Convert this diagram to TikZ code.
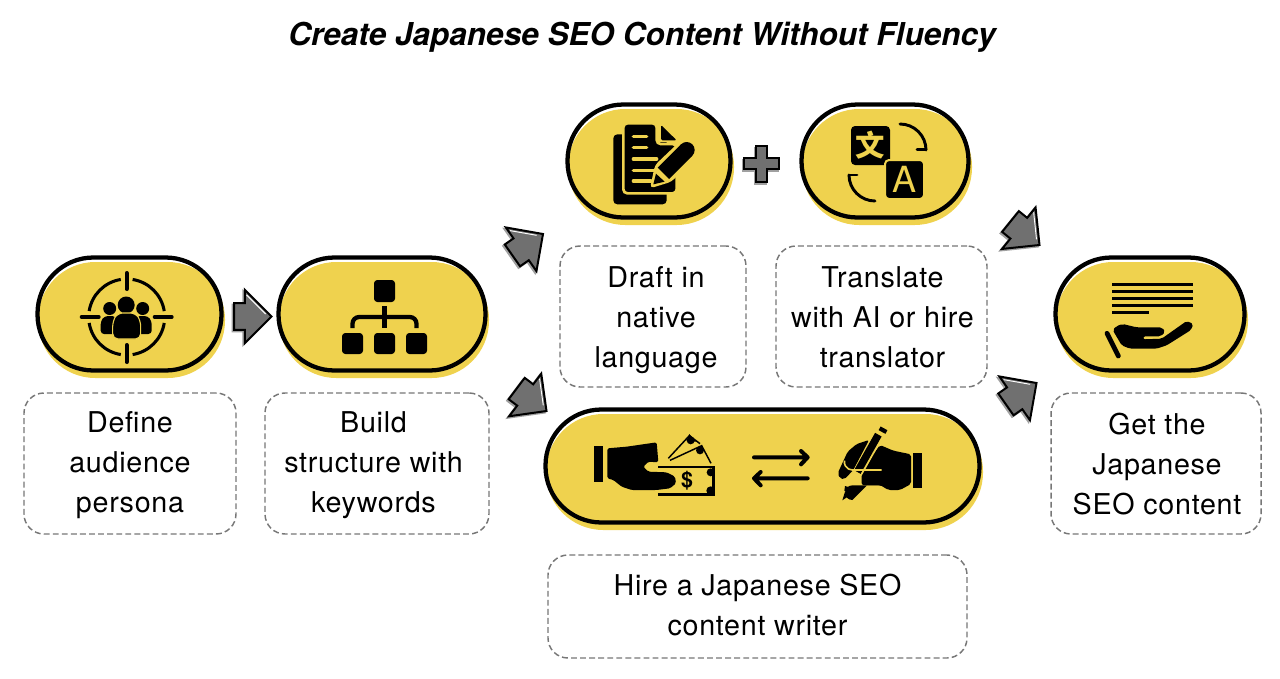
\documentclass[tikz,border=0pt]{standalone}
\usepackage{fontspec}
\setmainfont{TeX Gyre Heros}
\newfontfamily\notefont[LetterSpace=2.5]{TeX Gyre Heros}
\newfontfamily\cjkfont{Noto Sans CJK SC}
\usetikzlibrary{shapes.arrows,calc}
\definecolor{pillyellow}{HTML}{EFD24E}
\definecolor{arrowgray}{HTML}{707070}
\definecolor{dashgray}{HTML}{777777}
\definecolor{shadegray}{HTML}{A0A0A0}
\tikzset{
  pillshade/.style={fill=pillyellow,rounded corners=43pt,inner sep=0pt},
  pilledge/.style={draw=black,line width=3.2pt,rounded corners=42pt,inner sep=0pt},
  notebox/.style={draw=dashgray,line width=1.1pt,dash pattern=on 4.4pt off 2.4pt,rounded corners=15pt,inner sep=0pt},
  notetext/.style={inner sep=0pt,align=center,font=\notefont\fontsize{21.5}{30}\selectfont},
  arrowbase/.style={single arrow,line width=1.5pt,inner sep=0pt,outer sep=0pt,minimum height=28pt,single arrow head extend=10pt,anchor=tip},
  blockarrow/.style={arrowbase,draw=black,fill=arrowgray},
  blockshade/.style={arrowbase,draw=shadegray,fill=shadegray},
  gleam/.style={white,line width=.7pt},
  goldline/.style={draw=pillyellow,line cap=round}
}
% name, x1,y1,x2,y2 (outer px)
\newcommand{\pillnode}[5]{%
  \node[pillshade,minimum width={(#4-#2)*0.75pt},minimum height={(#5-#3)*0.75pt}] (#1shade) at ({(#2+#4)/2+2},{(#3+#5)/2+6}) {};
  \node[pilledge,minimum width={(#4-#2-3)*0.75pt},minimum height={(#5-#3-3)*0.75pt}] (#1) at ({(#2+#4)/2},{(#3+#5)/2}) {};
}
% name, x1,y1,x2,y2, text centre x, text centre y, text
\newcommand{\notenode}[8]{%
  \node[notebox,minimum width={(#4-#2)*0.75pt},minimum height={(#5-#3)*0.75pt}] (#1) at ({(#2+#4)/2},{(#3+#5)/2}) {};
  \node[notetext] (#1label) at (#6,#7) {#8};
}
% name, tip x, tip y, angle
\newcommand{\arrownode}[4]{%
  \node[blockshade,rotate=#4] (#1shade) at ({#2-1.5},{#3+1.5}) {\rule{0pt}{18.5pt}};
  \node[blockarrow,rotate=#4] (#1) at (#2,#3) {\rule{0pt}{18.5pt}};
  \draw[gleam] ($(#1.tip)+({-(#4+135)}:6)+({-(#4+225)}:2.4)$) -- ++({-(#4+135)}:27);
}
\begin{document}
\begin{tikzpicture}[x=0.75pt,y=-0.75pt]
\useasboundingbox (0,0) rectangle (1280,678);
\node[font=\bfseries\itshape\fontsize{23.65}{26}\selectfont] (title) at (642,37.5) {Create Japanese SEO Content Without Fluency};

\pillnode{persona}{36}{256}{223}{372}
\pillnode{structure}{277}{256}{487}{372}
\pillnode{draft}{566}{103}{732}{219}
\pillnode{translate}{800}{103}{970}{219}
\pillnode{hire}{544}{408}{981}{524}
\pillnode{result}{1054}{256}{1246}{372}

\notenode{personatext}{24}{393}{236}{534}{130}{465.5}{Define\\audience\\persona}
\notenode{structuretext}{265}{393}{489}{534}{373.5}{465.5}{Build\\structure with\\keywords}
\notenode{drafttext}{560}{246}{746}{387}{656}{320.5}{Draft in\\native\\language}
\notenode{translatetext}{776}{246}{987}{387}{882.5}{317.5}{Translate\\with AI or hire\\translator}
\notenode{hiretext}{548}{555}{967}{658}{757.5}{604.5}{Hire a Japanese SEO\\content writer}
\notenode{resulttext}{1051}{393}{1261}{534}{1157}{464.5}{Get the\\Japanese\\SEO content}

\arrownode{arrowa}{271.5}{316.5}{0}
\arrownode{arrowb}{543}{234}{35}
\arrownode{arrowc}{546.5}{411}{-37}
\arrownode{arrowd}{1039.5}{245}{-39}
\arrownode{arrowe}{1036.5}{383}{35}

% plus
\draw[shadegray,fill=shadegray,line width=1.5pt,shift={(-1.2,1.5)}] (756,146) -- (767,146) -- (767,158) -- (779,158) -- (779,169) -- (767,169) -- (767,182) -- (756,182) -- (756,169) -- (744,169) -- (744,158) -- (756,158) -- cycle;
\draw[black,fill=arrowgray,line width=1.5pt] (756,146) -- (767,146) -- (767,158) -- (779,158) -- (779,169) -- (767,169) -- (767,182) -- (756,182) -- (756,169) -- (744,169) -- (744,158) -- (756,158) -- cycle;

% icon: target with people
\begin{scope}[shift={(126.7,317)}]
  \foreach \a in {0,90,180,270}{
    \draw[black,line width=2.3pt,line cap=butt] ({\a+9}:38) arc[start angle=\a+9,end angle=\a+81,radius=38];
  }
  \draw[black,line cap=round,line width=3pt] (0,-44) -- (0,-28) (0,28) -- (0,45) (-45,0) -- (-28,0) (28,0) -- (45,0);
  \fill (-17,-8.5) circle[radius=6.5] (16,-8.5) circle[radius=6.5] (-.5,-12) circle[radius=8.5];
  \fill[rounded corners=2.5pt] (-26,17) -- (-26,4) -- (-22,-1) -- (-11,-1) -- (-11,17) -- cycle;
  \fill[rounded corners=2.5pt] (25,17) -- (25,4) -- (21,-1) -- (10,-1) -- (10,17) -- cycle;
  \draw[fill=black,draw=pillyellow,line width=.8pt,rounded corners=4pt] (-14,22) -- (-14,4) -- (-9,-4) -- (9,-4) -- (14,4) -- (14,22) -- cycle;
\end{scope}

% icon: hierarchy
\fill[rounded corners=2.5pt] (374,280) rectangle (395,302);
\fill[rounded corners=2.5pt] (342,333) rectangle (363,354);
\fill[rounded corners=2.5pt] (374,333) rectangle (395,354);
\fill[rounded corners=2.5pt] (406,333) rectangle (427,354);
\draw[black,line width=3.6pt] (384.5,306) -- (384.5,328);
\draw[black,line width=3.2pt,rounded corners=5pt] (352.5,328) -- (352.5,317) -- (416.5,317) -- (416.5,328);

% icon: document and pencil (zoomed coordinates)
\begin{scope}[shift={(605,115)},scale=1/3]
  \fill[rounded corners=3pt] (25,58) rectangle (185,268);
  \draw[fill=black,draw=pillyellow,line width=2pt,rounded corners=3pt] (55,25) -- (155,25) -- (155,87) -- (215,87) -- (215,235) -- (55,235) -- cycle;
  \fill[pillyellow] (153,15) rectangle (230,82);
  \fill[rounded corners=1pt] (168,30) -- (215,76) -- (168,76) -- cycle;
  \foreach \ly/\lx in {65/125,97/125,132/155,167/147,198/138}{
    \draw[goldline,line width=2.5pt] (85,\ly) -- (\lx,\ly);
  }
  \fill[pillyellow,rounded corners=3pt] (135,220) -- (150,150) -- (232,72) -- (278,116) -- (200,200) -- cycle;
  \fill (192,192) -- (158,158) -- (228,88) -- (262,122) -- cycle;
  \fill (245,105) circle[radius=24];
  \fill (145,208) -- (153,176) -- (179,200) -- cycle;
\end{scope}

% icon: translation
\fill[rounded corners=3pt] (851,126) rectangle (890,165);
\draw[fill=black,draw=pillyellow,line width=1.5pt,rounded corners=3pt] (885,160) rectangle (924,199);
\node[text=pillyellow,inner sep=0pt,font=\cjkfont\bfseries\fontsize{22}{22}\selectfont] (wenglyph) at (870.5,145.5) {文};
\node[text=pillyellow,inner sep=0pt,font=\fontsize{27}{27}\selectfont] (aglyph) at (904.5,179.5) {A};
\draw[black,line width=2.2pt,line cap=round] (900,124) arc[start angle=-90,end angle=0,radius=26];
\draw[black,line width=2.2pt,line cap=round] (917,149.5) -- (926,149.5);
\draw[black,line width=2.2pt,line cap=round] (875,201) arc[start angle=90,end angle=180,radius=26];
\draw[black,line width=2.2pt,line cap=round] (849,175) -- (857,175);

% icon: paying hand and money (zoomed coordinates)
\begin{scope}[shift={(590,425)},scale=1/3]
  \fill (12,62) rectangle (40,172);
  \draw[black,line width=1.1pt,line join=miter] (235,100) -- (298,32) -- (330,56);
  \draw[black,line width=1.1pt,line join=miter] (240,106) -- (335,62) -- (363,115);
  \fill (302,46) circle[radius=12] (330,76) circle[radius=12];
  \fill (298,27) -- (318,50) -- (290,48) -- cycle;
  \fill (205,122) rectangle (375,130);
  \fill (367,122) rectangle (375,212);
  \fill (205,205) rectangle (375,212);
  \fill (362,142) circle[radius=12] (362,197) circle[radius=13];
  \fill[pillyellow] (376,120) rectangle (392,215);
  \node[inner sep=0pt,font=\bfseries\fontsize{16}{16}\selectfont] (dollar) at (291,168) {\$};
  \fill[rounded corners=1.2pt] (52,70) -- (110,65) -- (200,52) -- (205,112) -- (175,110) -- (160,125) -- (175,140) -- (230,142) -- (255,155) -- (258,175) -- (240,190) -- (200,195) -- (125,195) -- (95,185) -- (70,165) -- (52,160) -- cycle;
\end{scope}

% icon: exchange arrows
\begin{scope}[shift={(540,400)},scale=1/3]
  \draw[black,line width=3pt,line cap=round,line join=round] (642,172) -- (803,172) (783,153) -- (803,172) -- (783,193);
  \draw[black,line width=3pt,line cap=round,line join=round] (803,235) -- (642,235) (662,216) -- (642,235) -- (662,256);
\end{scope}

% icon: writing hand (zoomed coordinates)
\begin{scope}[shift={(825,420)},scale=1/3]
  \fill (265,100) rectangle (290,205);
  \fill[rounded corners=1.5pt] (132,60) -- (95,72) -- (68,95) -- (38,160) -- (45,175) -- (58,178) -- (85,150) -- cycle;
  \fill[rounded corners=1.5pt] (165,75) -- (205,92) -- (258,103) -- (258,192) -- (225,210) -- (190,210) -- (165,195) -- (110,195) -- (110,150) -- cycle;
  \draw[pillyellow,line width=7.4pt] (170,30) -- (97,160);
  \draw[black,line width=5.6pt] (160,44) -- (97,156);
  \draw[black,line width=5.8pt] (177,25) -- (171,36);
  \fill (170,196) -- (82,196) arc[start angle=270,end angle=90,radius=22] -- (170,152) -- cycle;
  \draw[pillyellow,line width=1.2pt] (170,150) -- (82,150) arc[start angle=90,end angle=190,radius=24];
  \fill (60,198) -- (88,206) -- (82,218) -- (58,212) -- cycle;
  \fill (60,215) -- (80,222) -- (52,241) -- cycle;
\end{scope}

% icon: text lines and open hand (zoomed coordinates)
\begin{scope}[shift={(990,250)},scale=1/3]
  \foreach \ly in {103,124,145,165}{
    \fill (366,\ly-4.5) rectangle (610,\ly+4.5);
  }
  \fill (366,181.5) rectangle (476,190.5);
  \draw[black,line width=3.6pt,line cap=round] (351,250) -- (385,318);
  \fill[rounded corners=1.5pt] (368,240) -- (380,228) -- (398,222) -- (440,232) -- (515,232) -- (526,245) -- (512,259) -- (460,259) -- (460,268) -- (515,266) -- (590,213) -- (610,222) -- (603,240) -- (530,286) -- (500,296) -- (420,296) -- (395,286) -- cycle;
\end{scope}
\end{tikzpicture}
\end{document}
